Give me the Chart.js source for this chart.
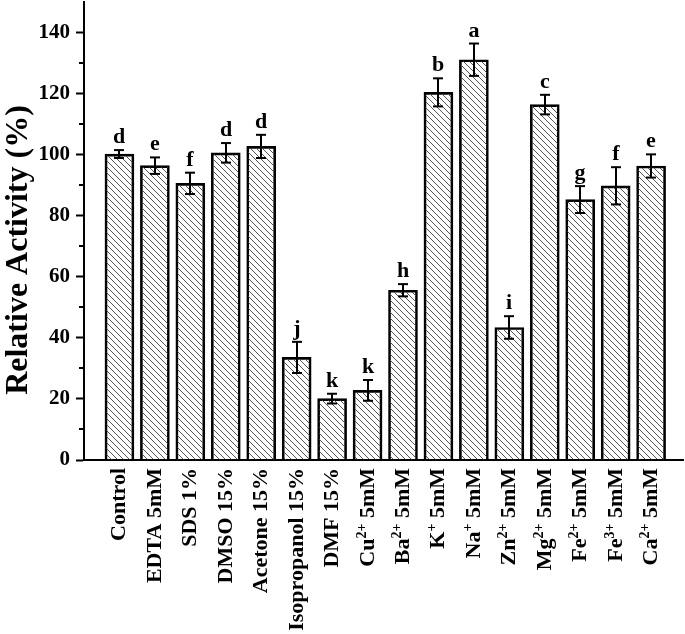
<!DOCTYPE html>
<html>
<head>
<meta charset="utf-8">
<script src="https://cdn.jsdelivr.net/npm/chart.js@4.4.0/dist/chart.umd.min.js"></script>
<style>
    html, body { margin: 0; padding: 0; background: #fff; }
</style>
</head>
<body>
<canvas id="activity-chart" width="685" height="634"></canvas>
<script>
    // Data
    var categories = ["Control", "EDTA 5mM", "SDS 1%", "DMSO 15%", "Acetone 15%", "Isopropanol 15%", "DMF 15%",
        "Cu²⁺ 5mM", "Ba²⁺ 5mM", "K⁺ 5mM", "Na⁺ 5mM", "Zn²⁺ 5mM", "Mg²⁺ 5mM", "Fe²⁺ 5mM", "Fe³⁺ 5mM", "Ca²⁺ 5mM"];
    var activity = [100.2, 96.4, 90.6, 100.6, 102.7, 33.6, 20.1, 22.8, 55.6, 120.4, 131.1, 43.4, 116.4, 85.3, 89.8, 96.3];
    var errors = [1.3, 2.7, 3.5, 3.2, 3.8, 5.1, 1.6, 3.4, 2.0, 4.6, 5.3, 3.7, 3.2, 4.4, 6.1, 3.8];
    var groups = ["d", "e", "f", "d", "d", "j", "k", "k", "h", "b", "a", "i", "c", "g", "f", "e"];
    var yTicks = [0, 20, 40, 60, 80, 100, 120, 140];
    var yMinorTicks = [10, 30, 50, 70, 90, 110, 130];

    var serif = '"Liberation Serif", "Times New Roman", serif';

    // Hatch pattern for the bars
    var hatch = (function () {
        var s = 6;
        var c = document.createElement("canvas");
        c.width = s; c.height = s;
        var g = c.getContext("2d");
        g.strokeStyle = "#555";
        g.lineWidth = 1;
        [-s, 0, s].forEach(function (k) {
            g.beginPath();
            g.moveTo(k, 0);
            g.lineTo(k + s, s);
            g.stroke();
        });
        return g.createPattern(c, "repeat");
    })();

    var supMap = { "⁰": "0", "¹": "1", "²": "2", "³": "3", "⁴": "4", "⁺": "+", "⁻": "-" };

    // split a label into normal / superscript runs
    function runs(label) {
        var out = [];
        Array.from(label).forEach(function (ch) {
            var sup = ch in supMap;
            var c = sup ? supMap[ch] : ch;
            var last = out[out.length - 1];
            if (last && last.sup === sup) last.text += c;
            else out.push({ text: c, sup: sup });
        });
        return out;
    }

    function line(ctx, x1, y1, x2, y2) {
        ctx.beginPath();
        ctx.moveTo(x1, y1);
        ctx.lineTo(x2, y2);
        ctx.stroke();
    }

    // Error bars, letters, rotated labels, axis title
    var decorations = {
        id: "decorations",
        afterDraw: function (chart) {
            var ctx = chart.ctx, xs = chart.scales.x, ys = chart.scales.y;
            ctx.save();
            ctx.strokeStyle = "#000";
            ctx.fillStyle = "#000";
            ctx.lineWidth = 2;

            // minor ticks
            yMinorTicks.forEach(function (v) {
                var py = Math.round(ys.getPixelForValue(v));
                line(ctx, xs.left - 5, py, xs.left, py);
            });

            // error bars + significance letters
            ctx.font = "bold 22px " + serif;
            ctx.textAlign = "center";
            ctx.textBaseline = "alphabetic";
            activity.forEach(function (v, i) {
                var px = Math.round(xs.getPixelForValue(i));
                var top = ys.getPixelForValue(v + errors[i]);
                var bot = ys.getPixelForValue(v - errors[i]);
                line(ctx, px, top, px, bot);
                line(ctx, px - 5, top, px + 5, top);
                line(ctx, px - 5, bot, px + 5, bot);
                ctx.fillText(groups[i], px, top - 7);
            });

            // category labels, rotated
            categories.forEach(function (label, i) {
                var px = xs.getPixelForValue(i);
                var parts = runs(label);
                var total = 0;
                parts.forEach(function (p) {
                    ctx.font = "bold " + (p.sup ? 14 : 22) + "px " + serif;
                    p.w = ctx.measureText(p.text).width;
                    total += p.w;
                });
                ctx.save();
                ctx.translate(px + 6, 468);
                ctx.rotate(-Math.PI / 2);
                ctx.textAlign = "left";
                var cur = -total;
                parts.forEach(function (p) {
                    ctx.font = "bold " + (p.sup ? 14 : 22) + "px " + serif;
                    ctx.fillText(p.text, cur, p.sup ? -8 : 0);
                    cur += p.w;
                });
                ctx.restore();
            });

            // y axis title
            ctx.save();
            ctx.translate(27, 250);
            ctx.rotate(-Math.PI / 2);
            ctx.font = "bold 32px " + serif;
            ctx.textAlign = "center";
            ctx.fillText("Relative Activity (%)", 0, 0);
            ctx.restore();

            ctx.restore();
        }
    };

    // Relative activity bar chart
    var ctx1 = document.getElementById("activity-chart").getContext("2d");
    var myChart1 = new Chart(ctx1, {
        type: "bar",
        data: {
            datasets: [{
                data: activity.map(function (v, i) { return { x: i, y: v }; }),
                backgroundColor: hatch,
                borderColor: "#000",
                borderWidth: 2,
                borderSkipped: "start",
                barThickness: 29
            }]
        },
        options: {
            responsive: false,
            animation: false,
            devicePixelRatio: 1,
            layout: { padding: { top: 2, right: 2, left: 0, bottom: 0 } },
            plugins: { legend: { display: false }, tooltip: { enabled: false } },
            scales: {
                x: {
                    type: "linear",
                    offset: false,
                    min: -1,
                    max: 15.9,
                    grid: { display: true, drawOnChartArea: false, drawTicks: false, offset: false },
                    ticks: { display: false },
                    border: { color: "#000", width: 2 },
                    afterFit: function (s) { s.height = 174; s.paddingLeft = 0; s.paddingRight = 0; }
                },
                y: {
                    min: 0,
                    max: 150,
                    afterBuildTicks: function (s) {
                        s.ticks = yTicks.map(function (v) { return { value: v }; });
                    },
                    ticks: { color: "#000", padding: 6, font: { family: serif, size: 21, weight: "bold" } },
                    grid: { drawOnChartArea: false, tickLength: 8, tickWidth: 2, tickColor: "#000" },
                    border: { color: "#000", width: 2 },
                    afterFit: function (s) { s.width = 84; s.paddingTop = 0; s.paddingBottom = 0; }
                }
            }
        },
        plugins: [decorations]
    });
</script>
</body>
</html>
